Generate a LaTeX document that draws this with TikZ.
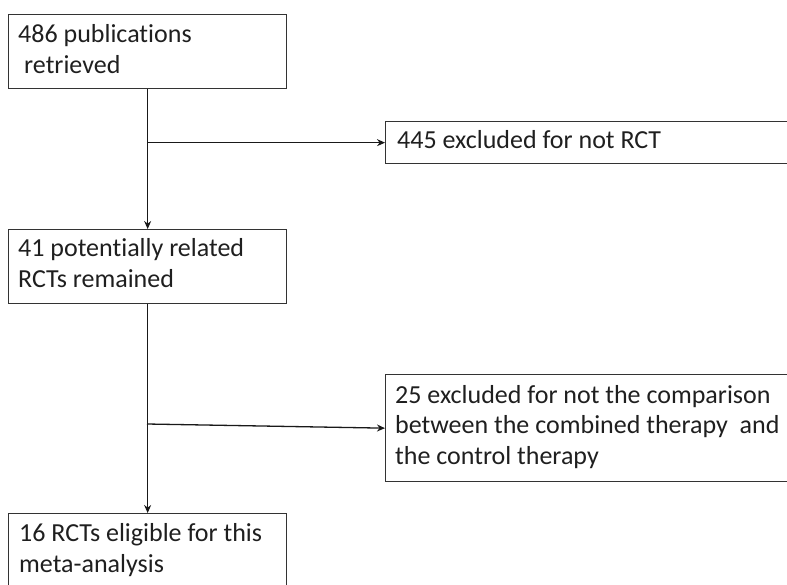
\documentclass[tikz,border=0pt]{standalone}
\usepackage{fontspec}
\setmainfont[Ligatures=NoCommon]{Carlito}
\usetikzlibrary{arrows.meta}
\begin{document}
\begin{tikzpicture}[x=1pt,y=-1pt,
  box/.style={draw=black!80, line width=1.3pt, inner sep=0pt, anchor=north west},
  txt/.style={anchor=base west, inner sep=0pt, align=left, font=\fontsize{26}{30.5}\selectfont, text=black!88},
  conn/.style={line width=1.3pt, draw=black!90, -{Stealth[length=8pt,width=7pt]}}]
\useasboundingbox (0,0) rectangle (787,584);
\clip (0,0) rectangle (787,584);
% boxes
\node[box, minimum width=278pt, minimum height=74pt] (b1) at (8,14) {};
\node[box, minimum width=278pt, minimum height=74pt] (b3) at (8,229) {};
\node[box, minimum width=278pt, minimum height=100pt] (b5) at (8,513) {};
\node[box, minimum width=420pt, minimum height=42pt] (b2) at (385,121) {};
\node[box, minimum width=420pt, minimum height=107pt] (b4) at (385,374) {};
% texts (base anchor = baseline of the last line)
\node[txt] (t1) at (18,73) {486 publications\\\hspace{6pt}retrieved};
\node[txt] (t3) at (18,287) {41 potentially related\\RCTs remained};
\node[txt] (t5) at (19,572) {16 RCTs eligible for this\\meta-analysis};
\node[txt] (t2) at (397,148) {445 excluded for not RCT};
\node[txt] (t4) at (395,464) {25 excluded for not the comparison\\between the combined therapy\ \ and\\the control therapy};
% connectors
\draw[conn] (b1.south) -- (b3.north);
\draw[conn] (b3.south) -- (b5.north);
\coordinate (j1) at (b1.south |- b2.west);
\draw[conn] (j1) -- (b2.west);
\coordinate (j2) at (147,424);
\draw[conn] (j2) -- (b4.west);
\end{tikzpicture}
\end{document}
